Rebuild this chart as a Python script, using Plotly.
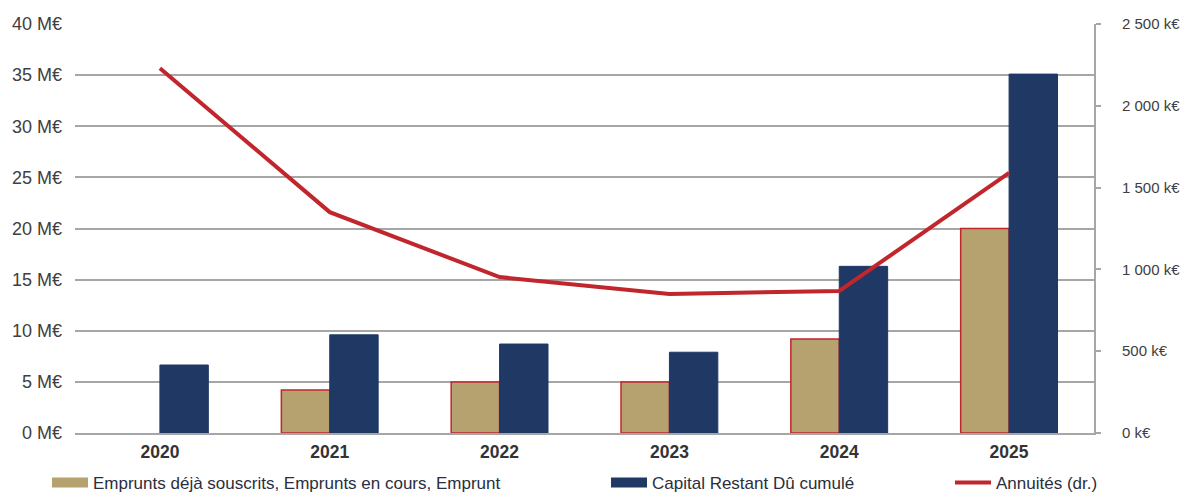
import plotly.graph_objects as go

years = ["2020", "2021", "2022", "2023", "2024", "2025"]
emprunts = [None, 4.2, 5.0, 5.0, 9.2, 20.0]          # M€
capital_restant = [6.65, 9.6, 8.7, 7.9, 16.3, 35.1]  # M€
annuites = [2230, 1350, 953, 850, 868, 1590]          # k€

left_ticks = [0, 5, 10, 15, 20, 25, 30, 35, 40]
left_labels = [f"{v} M€" for v in left_ticks]
right_ticks = [0, 500, 1000, 1500, 2000, 2500]
right_labels = ["0 k€", "500 k€", "1 000 k€", "1 500 k€", "2 000 k€", "2 500 k€"]

name_emprunts = "Emprunts déjà souscrits, Emprunts en cours, Emprunt"
name_capital = "Capital Restant Dû cumulé"
name_annuites = "Annuités (dr.)"

BEIGE = "#B5A26E"
RED = "#C0262C"
NAVY = "#1F3864"
GRID = "#A6A6A6"
FONT = "Liberation Sans, Arial, sans-serif"

fig = go.Figure()
fig.add_trace(go.Bar(
    x=years, y=emprunts, name=name_emprunts, showlegend=False,
    marker=dict(color=BEIGE, line=dict(color=RED, width=1.5)),
))
fig.add_trace(go.Bar(
    x=years, y=capital_restant, name=name_capital, showlegend=False,
    marker=dict(color=NAVY, line=dict(color=NAVY, width=1)),
))
fig.add_trace(go.Scatter(
    x=years, y=annuites, name=name_annuites, yaxis="y2", mode="lines",
    line=dict(color=RED, width=4), legend="legend3",
))
# legend swatches (wide rectangles as in the original)
fig.add_trace(go.Scatter(x=[None], y=[None], mode="lines", name=name_emprunts,
                         line=dict(color=BEIGE, width=11), legend="legend"))
fig.add_trace(go.Scatter(x=[None], y=[None], mode="lines", name=name_capital,
                         line=dict(color=NAVY, width=11), legend="legend2"))

H = 409
legend_y = (433 - 483) / H
common_legend = dict(orientation="h", yanchor="middle", y=legend_y, xanchor="left",
                     font=dict(family=FONT, size=17, color="#2A2E3E"),
                     itemwidth=36, bgcolor="rgba(0,0,0,0)")
fig.update_layout(
    width=1189, height=494,
    margin=dict(l=75, r=95, t=24, b=61, autoexpand=False),
    paper_bgcolor="white", plot_bgcolor="white",
    showlegend=True,
    barmode="group", bargap=0.43, bargroupgap=0,
    font=dict(family=FONT, color="#404040"),
    legend=dict(common_legend, x=(47 - 75) / 1019),
    legend2=dict(common_legend, x=(606 - 75) / 1019),
    legend3=dict(common_legend, x=(950 - 75) / 1019),
    xaxis=dict(showline=True, linecolor=GRID, linewidth=2, showgrid=False,
               tickfont=dict(family=FONT, size=17.5, color="#333333", weight="bold"),
               ticklabelstandoff=2),
    yaxis=dict(range=[0, 40], tickvals=left_ticks, ticktext=left_labels,
               showgrid=True, gridcolor=GRID, gridwidth=1.5, zeroline=False,
               showline=False, tickfont=dict(family=FONT, size=18, color="#404040"),
               ticklabelstandoff=12),
    yaxis2=dict(range=[0, 2500], tickvals=right_ticks, ticktext=right_labels,
                overlaying="y", side="right", showgrid=False, zeroline=False,
                showline=True, linecolor=GRID, linewidth=2,
                ticks="outside", ticklen=5, tickcolor=GRID, tickwidth=1.5,
                tickfont=dict(family=FONT, size=15, color="#404040"),
                ticklabelstandoff=18),
)

fig.write_html("out.html")
